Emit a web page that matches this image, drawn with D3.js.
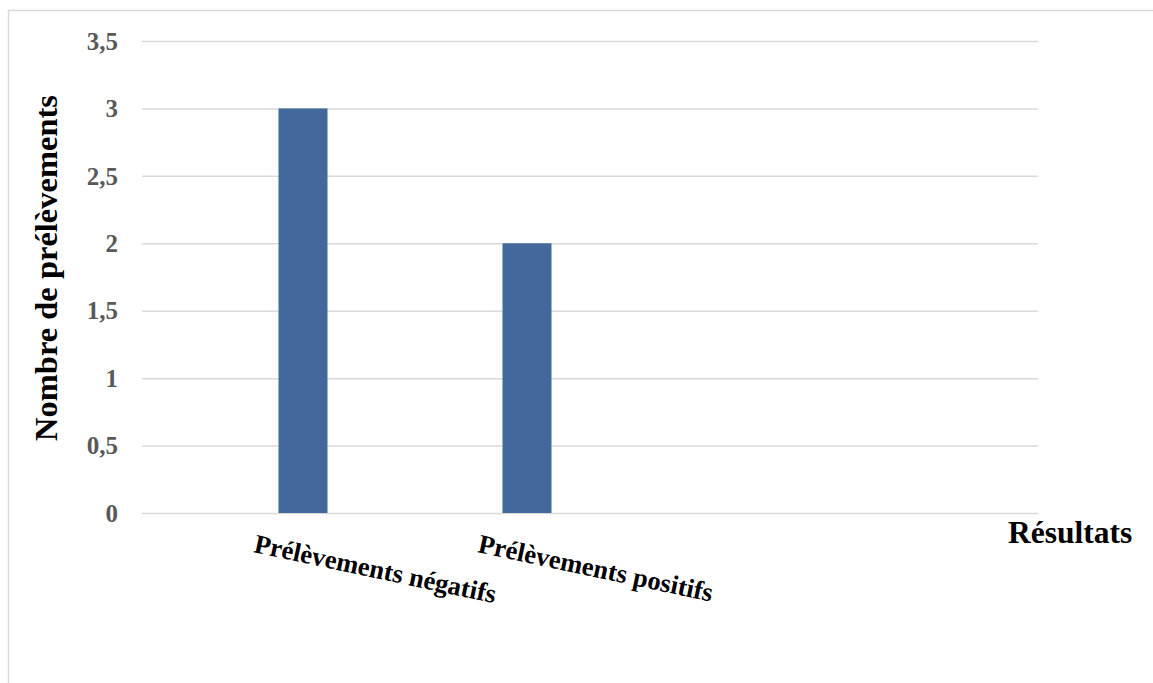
<!DOCTYPE html>
<html>
<head>
<meta charset="utf-8">
<script src="https://cdn.jsdelivr.net/npm/d3@7"></script>
<style>
  html, body { margin: 0; padding: 0; background: #fff; }
  svg { display: block; }
  text { font-family: "Liberation Serif", "Times New Roman", serif; font-weight: bold; }
</style>
</head>
<body>
<svg id="chart" width="1153" height="683"></svg>
<script>
// Categories on the x axis (the last two slots are empty)
const categories = ["Prélèvements négatifs", "Prélèvements positifs", "", ""];
// Series in each cluster; only the third carries values
const seriesNames = ["Série 1", "Série 2", "Série 3"];
const serie1 = [null, null, null, null];
const serie2 = [null, null, null, null];
const serie3 = [3, 2, null, null];
const seriesValues = [serie1, serie2, serie3];
// Y-axis ticks and their labels
const yTicks = [0, 0.5, 1, 1.5, 2, 2.5, 3, 3.5];
const yTickLabels = ["0", "0,5", "1", "1,5", "2", "2,5", "3", "3,5"];
const yTitle = "Nombre de prélèvements";
const xTitle = "Résultats";

const svg = d3.select("#chart");
const plot = { left: 142, right: 1038, top: 41, bottom: 513 };

// chart frame
svg.append("rect")
  .attr("x", 8.5).attr("y", 10.5)
  .attr("width", 1160).attr("height", 700)
  .attr("fill", "#fff")
  .attr("stroke", "#d9d9d9").attr("stroke-width", 1.5);

const x = d3.scaleBand().domain(d3.range(categories.length))
  .range([plot.left, plot.right]).paddingInner(0).paddingOuter(0);
const xInner = d3.scaleBand().domain(seriesNames)
  .range([0, x.bandwidth()]).paddingInner(0).paddingOuter(0.786);
const y = d3.scaleLinear().domain([0, 3.5]).range([plot.bottom, plot.top]);

// horizontal gridlines (including the baseline at 0)
const yAxis = d3.axisLeft(y).tickValues(yTicks)
  .tickSize(-(plot.right - plot.left))
  .tickFormat((d, i) => yTickLabels[i]);
const gy = svg.append("g").attr("transform", `translate(${plot.left},0)`).call(yAxis);
gy.select(".domain").remove();
gy.selectAll(".tick line").attr("stroke", "#d9d9d9").attr("stroke-width", 1.5);
gy.selectAll(".tick text")
  .attr("x", -24)
  .attr("dy", "0.33em")
  .attr("fill", "#595959")
  .style("font-size", "25px")
  .style("font-family", "'Liberation Serif', 'Times New Roman', serif")
  .style("font-weight", "bold");

// bars
seriesNames.forEach((s, si) => {
  const vals = seriesValues[si];
  svg.append("g").selectAll("rect")
    .data(vals.map((v, i) => ({ i, v })).filter(d => d.v != null))
    .join("rect")
    .attr("x", d => x(d.i) + xInner(s))
    .attr("width", xInner.bandwidth())
    .attr("y", d => y(d.v))
    .attr("height", d => y(0) - y(d.v))
    .attr("fill", "#41699b");
});

// category labels, tilted
svg.append("g").selectAll("text")
  .data(categories.map((c, i) => ({ c, i })).filter(d => d.c))
  .join("text")
  .attr("transform", d => `translate(${x(d.i) + x.bandwidth() / 2 - 1},552) rotate(12)`)
  .attr("text-anchor", "start")
  .attr("fill", "#000")
  .style("font-size", "26.5px")
  .text(d => d.c);

// axis titles
svg.append("text")
  .attr("transform", `translate(${57},${268}) rotate(-90)`)
  .attr("text-anchor", "middle")
  .attr("fill", "#000")
  .style("font-size", "32.5px")
  .text(yTitle);

svg.append("text")
  .attr("x", 1008).attr("y", 543)
  .attr("fill", "#000")
  .style("font-size", "31.5px")
  .text(xTitle);
</script>
</body>
</html>
